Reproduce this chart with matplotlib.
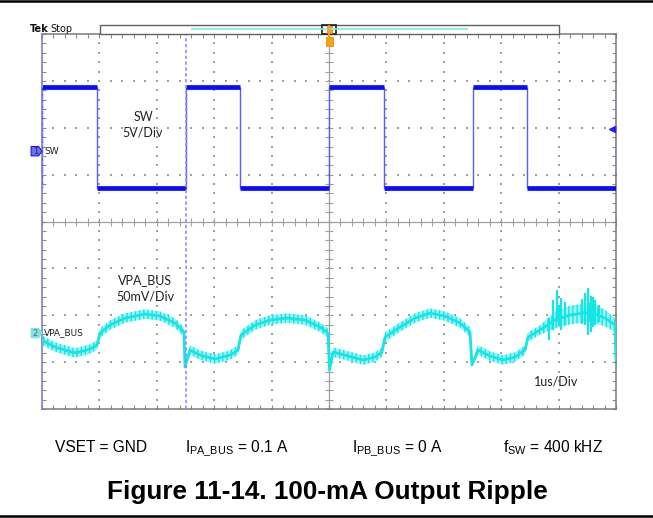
import matplotlib
matplotlib.use('Agg')
import matplotlib.pyplot as plt
import numpy as np
from matplotlib.patches import Rectangle, Polygon
from matplotlib.lines import Line2D

# ---------------- data ----------------
# time base: 1 us/div, 10 divisions
sw_rise_us = [0.0, 2.5, 5.0, 7.5, 10.0]
sw_fall_us = [0.95, 3.45, 5.95, 8.45]
sw_high_v = 6.85          # volts relative to CH1 marker (5 V/div)
sw_low_v = -3.95

vpa_t_us = [0.000, 0.226, 0.575, 0.836, 0.958, 1.010, 1.185, 1.446, 1.794, 2.056,
            2.317, 2.474, 2.491, 2.578, 2.753, 3.014, 3.275, 3.415, 3.467, 3.711,
            3.972, 4.268, 4.582, 4.843, 4.983, 5.009, 5.070, 5.279, 5.592, 5.801,
            5.923, 5.976, 6.237, 6.498, 6.760, 7.021, 7.282, 7.456, 7.491, 7.596,
            7.805, 8.031, 8.240, 8.415, 8.467, 8.676, 8.937, 9.199, 9.547, 9.808,
            9.983, 10.000]
vpa_mv = [-7.5, -14.9, -21.3, -17.1, -12.8, 0.0, 8.5, 16.0, 20.3, 18.1,
          10.7, 1.1, -36.2, -18.1, -23.5, -27.7, -23.5, -18.1, -2.1, 8.5,
          13.9, 16.0, 13.9, 6.4, 0.0, -39.4, -20.3, -23.5, -28.8, -25.6,
          -20.3, -4.3, 6.4, 16.0, 21.3, 18.1, 10.7, 1.1, -34.1, -18.1,
          -24.5, -28.8, -25.6, -18.1, -4.3, 3.2, 13.9, 19.2, 22.4, 16.0,
          8.5, -28.8]
vpa_noise_mv = [5, 5, 5, 5, 5, 5, 5, 5, 5, 5,
                5, 5, 1, 5, 5, 5, 5, 5, 5, 5,
                5, 5, 5, 5, 5, 1, 5, 5, 5, 5,
                5, 5, 5, 5, 5, 5, 5, 5, 1, 5,
                5, 5, 5, 5, 5, 5, 9, 10, 10, 9,
                7, 2]
# large noise bursts near the end of the record: (t_us, top_mV, bottom_mV)
spike_t_us = [8.83, 8.90, 8.97, 9.01, 9.05, 9.12, 9.40, 9.46, 9.51, 9.56, 9.60, 9.64, 9.71]
spike_top_mv = [16.0, 35.2, 45.8, 30.0, 37.0, 33.0, 36.0, 43.0, 48.0, 40.0, 38.0, 35.0, 29.8]
spike_bot_mv = [-7.5, 3.2, 11.7, 8.0, 3.2, 9.0, 10.0, 8.5, -2.1, 1.1, 6.0, 8.5, 11.7]

ch1_pos_div = 1.5
ch2_pos_div = -2.38
trig_level_div = 1.97
cursor_t_us = [0.0, 2.5]

bottom_labels = ["VSET = GND", r"I$_\mathrm{PA\_BUS}$ = 0.1 A",
                 r"I$_\mathrm{PB\_BUS}$ = 0 A", r"f$_\mathrm{SW}$ = 400 kHZ"]
title = "Figure 11-14. 100-mA Output Ripple"

# ---------------- figure ----------------
plt.rcParams['mathtext.fontset'] = 'custom'
plt.rcParams['mathtext.rm'] = 'Liberation Sans'
plt.rcParams['hatch.linewidth'] = 1.0
W, H = 653, 518
fig = plt.figure(figsize=(W / 100, H / 100), dpi=100)
fig.patch.set_facecolor('white')


def fx(px):
    return px / W


def fy(py):
    return 1 - py / H


ax = fig.add_axes([fx(42), fy(409), fx(616) - fx(42), fy(34) - fy(409)])
ax.set_xlim(0, 10)
ax.set_ylim(-4, 4)
ax.set_xticks(range(11))
ax.set_yticks(range(-4, 5))
ax.set_xticks(np.arange(0, 10.001, 0.2), minor=True)
ax.set_yticks(np.arange(-4, 4.001, 0.2), minor=True)
ax.tick_params(which='both', direction='in', top=True, right=True, length=3,
               color='#8c8c8c', width=0.8, labelbottom=False, labelleft=False)
for s in ax.spines.values():
    s.set_color('#7a7a7a')
    s.set_linewidth(1.1)

gcol = '#a0a0a0'
# dotted grid
for gx in range(1, 10):
    if gx == 5:
        continue
    ys = np.arange(-4, 4.001, 0.2)
    ax.scatter([gx] * len(ys), ys, s=1.4, marker='s', color=gcol, lw=0, zorder=1)
for gy in range(-3, 4):
    if gy == 0:
        continue
    xs = np.arange(0, 10.001, 0.2)
    ax.scatter(xs, [gy] * len(xs), s=1.4, marker='s', color=gcol, lw=0, zorder=1)
# centre cross with ticks
ax.axhline(0, color='#a0a0a0', lw=0.9, zorder=1)
ax.axvline(5, color='#a0a0a0', lw=0.9, zorder=1)
xs = np.arange(0, 10.001, 0.2)
ys = np.arange(-4, 4.001, 0.2)
ax.plot(xs, np.zeros_like(xs), ls='none', marker='|', ms=6, mew=0.8, color='#a0a0a0', zorder=1)
ax.plot(np.full_like(ys, 5), ys, ls='none', marker='_', ms=6, mew=0.8, color='#a0a0a0', zorder=1)

# cursors (dashed)
for ct in cursor_t_us:
    ax.axvline(ct, color='#8c8cff', lw=1.2, ls=(0, (2, 1.5)), zorder=5, clip_on=False)

# ---------------- SW trace ----------------
sw_hi = ch1_pos_div + sw_high_v / 5
sw_lo = ch1_pos_div + sw_low_v / 5
blue = '#0a0aff'
ax.vlines(sw_rise_us + sw_fall_us, sw_lo, sw_hi, color='#5a5aff', lw=1.0, zorder=3)
for r, f in zip(sw_rise_us[:-1], sw_fall_us):
    ax.hlines(sw_hi, r, f, color=blue, lw=3.4, zorder=4)
for f, r in zip(sw_fall_us, sw_rise_us[1:]):
    ax.hlines(sw_lo, f, r, color=blue, lw=3.4, zorder=4)

# ---------------- VPA_BUS trace ----------------
cyan = '#14e6e6'
t = np.array(vpa_t_us)
v = np.array(vpa_mv)
n = np.array(vpa_noise_mv)
ax.fill_between(t, ch2_pos_div + (v - n) / 50, ch2_pos_div + (v + n) / 50,
                facecolor='#9ff3f3', edgecolor=cyan, hatch='||||', lw=0, zorder=3)
ax.plot(t, ch2_pos_div + v / 50, color=cyan, lw=2.0, zorder=4)
ax.vlines(spike_t_us, ch2_pos_div + np.array(spike_bot_mv) / 50,
          ch2_pos_div + np.array(spike_top_mv) / 50, color=cyan, lw=1.6, zorder=4)

# trigger level marker on the right edge
ax.plot([9.93], [trig_level_div], marker='<', ms=5, color='#2020ff', clip_on=False, zorder=6)

# ---------------- scope annotations ----------------
sfont = 'Lato'
ax.text(1.76, 2.23, "SW", ha='center', va='center', fontsize=9, family=sfont, color='#222222')
ax.text(1.76, 1.89, "5V/Div", ha='center', va='center', fontsize=9, family=sfont, color='#222222')
ax.text(1.80, -1.25, "VPA_BUS", ha='center', va='center', fontsize=9, family=sfont, color='#222222')
ax.text(1.80, -1.61, "50mV/Div", ha='center', va='center', fontsize=9, family=sfont, color='#222222')
ax.text(8.95, -3.42, "1us/Div", ha='center', va='center', fontsize=9, family=sfont, color='#222222')

# channel markers
def ch_marker(ypos, num, face, edge, tcol, label):
    pts = [(-0.19, ypos - 0.1), (-0.06, ypos - 0.1), (0.0, ypos), (-0.06, ypos + 0.1), (-0.19, ypos + 0.1)]
    ax.add_patch(Polygon(pts, closed=True, facecolor=face, edgecolor=edge, lw=0.8,
                         clip_on=False, zorder=7))
    ax.text(-0.115, ypos, num, ha='center', va='center', fontsize=6, color=tcol,
            family='DejaVu Sans', clip_on=False, zorder=8)
    ax.text(0.04, ypos, label, ha='left', va='center', fontsize=6.5, color='#222222',
            family='DejaVu Sans', zorder=8)

ch_marker(ch1_pos_div, "1", '#7070ff', '#1a1acc', '#202060', "SW")
ch_marker(ch2_pos_div, "2", '#7fe3e3', '#7fe3e3', '#507070', "VPA_BUS")

# header: Tek Stop and record bar
fig.text(fx(30), fy(29), "Tek", fontsize=7, fontweight='bold', family='DejaVu Sans',
         va='center', ha='left', color='#111111')
fig.text(fx(50), fy(29), "Stop", fontsize=7, family='DejaVu Sans', va='center', ha='left',
         color='#111111')
fig.add_artist(Rectangle((fx(100), fy(34)), fx(559) - fx(100), fy(25) - fy(34),
                         transform=fig.transFigure, facecolor='white', edgecolor='#606060', lw=1))
fig.add_artist(Line2D([fx(192), fx(467)], [fy(29.5), fy(29.5)], transform=fig.transFigure,
                      color='#7fe8e8', lw=1.2))
fig.add_artist(Rectangle((fx(322), fy(34)), fx(336) - fx(322), fy(25) - fy(34),
                         transform=fig.transFigure, facecolor='none', edgecolor='#202020', lw=1.2))
# trigger position markers
fig.add_artist(Line2D([fx(329), fx(329)], [fy(26), fy(46)], transform=fig.transFigure,
                      color='#f7a21b', lw=1.2))
fig.add_artist(Rectangle((fx(326.5), fy(33)), fx(5), fy(26) - fy(33), transform=fig.transFigure,
                         facecolor='#f7a21b', edgecolor='#f08c00', lw=0.6))
fig.add_artist(Rectangle((fx(325.5), fy(46)), fx(7), fy(37) - fy(46), transform=fig.transFigure,
                         facecolor='#f7a21b', edgecolor='#f08c00', lw=0.6))

# page lines
fig.add_artist(Line2D([0, 1], [fy(0.8), fy(0.8)], transform=fig.transFigure, color='black', lw=1.8))
fig.add_artist(Line2D([0, 1], [fy(516), fy(516)], transform=fig.transFigure, color='black', lw=1.8))

# bottom condition labels and title
label_x_px = [55, 185, 352, 503]
for lx, txt in zip(label_x_px, bottom_labels):
    fig.text(fx(lx), fy(448), txt, fontsize=11.2, family='Liberation Sans',
             ha='left', va='center', color='black')
fig.text(fx(327), fy(492), title, fontsize=18.8, fontweight='bold', family='Liberation Sans',
         ha='center', va='center', color='black')

fig.savefig('out.png', dpi=100, facecolor='white')
